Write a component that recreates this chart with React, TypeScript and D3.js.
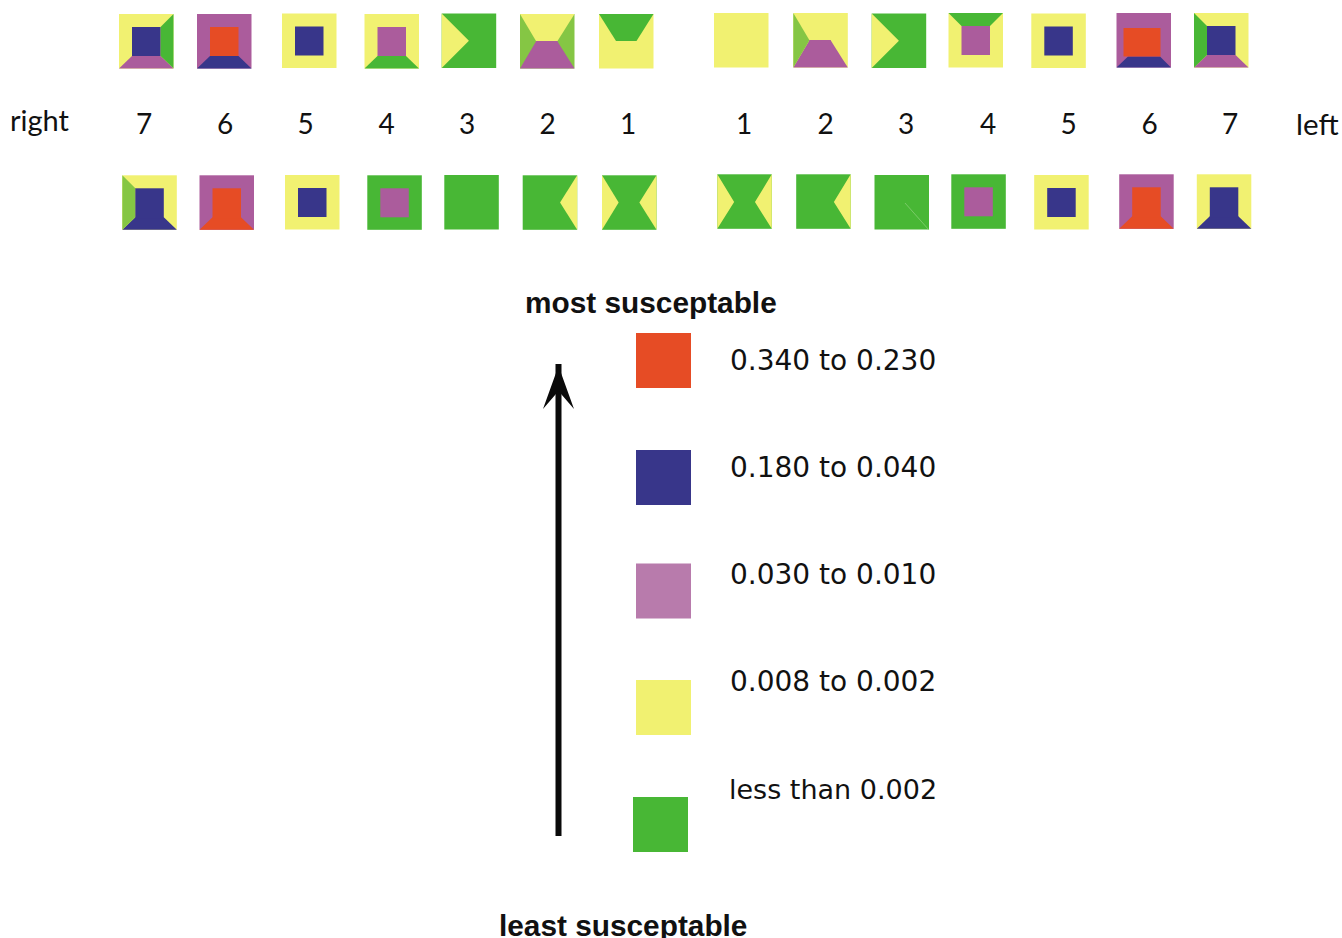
import React from "react";
import * as d3 from "d3";

const WIDTH = 1342;
const HEIGHT = 938;

const Y = "#f1f171", G = "#48b735", P = "#ab5c9c", N = "#38368a", O = "#e64c25", L = "#85c644";

// colour sets: top, right, bottom, left, centre
const topRightCells = [
  [Y, G, P, Y, N], [P, P, N, P, O], [Y, Y, Y, Y, N], [Y, Y, G, Y, P], [G, G, G, Y, G], [Y, L, P, L, P], [G, Y, Y, Y, Y],
];
const topLeftCells = [
  [Y, Y, Y, Y, Y], [Y, Y, P, L, P], [G, G, G, Y, G], [G, Y, Y, Y, P], [Y, Y, Y, Y, N], [P, P, N, P, O], [Y, Y, P, G, N],
];
const bottomRightCells = [
  [Y, Y, N, L, N], [P, P, O, P, O], [Y, Y, Y, Y, N], [G, G, G, G, P], [G, G, G, G, G], [G, Y, G, G, G], [G, Y, G, Y, G],
];
const bottomLeftCells = [
  [G, Y, G, Y, G], [G, Y, G, G, G], [G, G, G, G, G], [G, G, G, G, P], [Y, Y, Y, Y, N], [P, P, O, P, O], [Y, Y, N, Y, N],
];

const numbersRight = ["7", "6", "5", "4", "3", "2", "1"];
const numbersLeft = ["1", "2", "3", "4", "5", "6", "7"];

const legendLabels = ["0.340 to 0.230", "0.180 to 0.040", "0.030 to 0.010", "0.008 to 0.002", "less than 0.002"];
const legendColors = [O, N, "#b87bac", Y, G];

// layout: pixel geometry, kept apart from the data above
const S = 54.5;
const layoutTopRight = [[119, 14], [197, 14], [282, 13.5], [364.5, 14], [441.7, 13.5], [520, 14], [599, 14]];
const layoutTopLeft = [[714, 13], [793.3, 13], [871.7, 13.5], [948.5, 13], [1031.3, 13.5], [1116.5, 13], [1194, 13]];
const layoutBottomRight = [[122.3, 175.3], [199.5, 175.3], [285, 175], [367.3, 175.3], [444.3, 175], [522.7, 175.3], [602, 175.3]];
const layoutBottomLeft = [[717.3, 174.3], [796.2, 174.3], [874.5, 175], [951.3, 174.3], [1034.2, 175], [1119.2, 174.3], [1196.8, 174.3]];

// mitre point insets: left, top, right, bottom
const std = [13, 13, 13, 12.5];
const insetsTopRight = [std, std, std, std, [27, 27, 27, 27], [16, 27, 17, 27], [17, 27, 17, 27]];
const insetsTopLeft = [std, [16, 27, 17, 27], [27, 27, 27, 27], std, std, [11.5, 15, 11, 11], std];
const insetsBottomRight = [std, std, std, std, std, [27, 27, 17, 27], [16.5, 27, 17, 27]];
const insetsBottomLeft = [[17, 28, 17, 27], [27, 28, 17, 27], std, std, std, std, std];

// centre square that differs from the mitre rectangle
const coreOverride: Record<string, number[]> = { "topLeft-5": [7, 15, 10.5, 11] };

type Group = { id: string; colors: string[][]; layout: number[][]; insets: number[][] };
const groups: Group[] = [
  { id: "topRight", colors: topRightCells, layout: layoutTopRight, insets: insetsTopRight },
  { id: "topLeft", colors: topLeftCells, layout: layoutTopLeft, insets: insetsTopLeft },
  { id: "bottomRight", colors: bottomRightCells, layout: layoutBottomRight, insets: insetsBottomRight },
  { id: "bottomLeft", colors: bottomLeftCells, layout: layoutBottomLeft, insets: insetsBottomLeft },
];

const numberY = 134;
const numberXRight = [144, 225, 305.5, 386.5, 467, 547.5, 628];
const numberXLeft = [744, 825.5, 906, 988, 1068.5, 1149.5, 1230];

const legendY = [333, 450, 563.5, 680, 797];
const legendX = [636, 636, 636, 636, 633];
const legendTextY = [370, 477, 584, 691, 799];
const legendTextX = [730, 730, 730, 730, 729];
const legendTextSize = [28, 28, 28, 28, 27];

const arrowPath = d3.path();
arrowPath.moveTo(558.5, 364);
arrowPath.lineTo(558.5, 836);

const headPath = d3.path();
headPath.moveTo(558.5, 366);
headPath.lineTo(574, 409);
headPath.lineTo(558.5, 391);
headPath.lineTo(543, 409);
headPath.closePath();

const line = d3.line();

function Cell({ x, y, colors, inset, core }: { x: number; y: number; colors: string[]; inset: number[]; core?: number[] }) {
  const [t, r, b, l, c] = colors;
  const x0 = x, x1 = x + S, y0 = y, y1 = y + S;
  const ix0 = x + inset[0], ix1 = x + S - inset[2], iy0 = y + inset[1], iy1 = y + S - inset[3];
  const poly = (pts: [number, number][]) => line(pts) + "Z";
  const k = core ?? inset;
  const base = d3.mode([t, r, b, l]) as unknown as string;
  // a centre that shares the bottom colour overlaps it, so no seam shows
  const overlap = b === c ? 1 : 0;
  return (
    <g>
      <rect x={x0} y={y0} width={S} height={S} fill={base} />
      {t !== base && <path d={poly([[x0, y0], [x1, y0], [ix1, iy0], [ix0, iy0]])} fill={t} />}
      {r !== base && <path d={poly([[x1, y0], [x1, y1], [ix1, iy1], [ix1, iy0]])} fill={r} />}
      {b !== base && <path d={poly([[x0, y1], [x1, y1], [ix1, iy1], [ix0, iy1]])} fill={b} />}
      {l !== base && <path d={poly([[x0, y0], [x0, y1], [ix0, iy1], [ix0, iy0]])} fill={l} />}
      {c !== base && (
        <rect
          x={x + k[0]}
          y={y + k[1]}
          width={S - k[0] - k[2]}
          height={Math.max(0, S - k[1] - k[3]) + overlap}
          fill={c}
        />
      )}
    </g>
  );
}

const numberFont = "Lato, 'Open Sans', sans-serif";
const legendFont = "'DejaVu Sans', sans-serif";
const headFont = "'Liberation Sans', Arial, sans-serif";

export default function App() {
  return (
    <svg
      width={WIDTH}
      height={HEIGHT}
      viewBox={`0 0 ${WIDTH} ${HEIGHT}`}
      style={{ position: "absolute", left: 0, top: 0, background: "#fff", margin: 0 }}
    >
      {groups.map((g) =>
        g.colors.map((colors, i) => (
          <Cell
            key={g.id + i}
            x={g.layout[i][0]}
            y={g.layout[i][1]}
            colors={colors}
            inset={g.insets[i]}
            core={coreOverride[`${g.id}-${i}`]}
          />
        ))
      )}
      <path d="M905 203L929 230" stroke="#8fd27c" strokeWidth={0.7} fill="none" />
      <g fontFamily={numberFont} fontSize={28} fill="#111" textAnchor="middle">
        {numbersRight.map((n, i) => (
          <text key={"r" + i} x={numberXRight[i]} y={numberY}>{n}</text>
        ))}
        {numbersLeft.map((n, i) => (
          <text key={"l" + i} x={numberXLeft[i]} y={numberY}>{n}</text>
        ))}
      </g>
      <text x={10} y={130.5} fontFamily={numberFont} fontSize={29} fill="#111">right</text>
      <text x={1296} y={134.5} fontFamily={numberFont} fontSize={29.5} fill="#111">left</text>

      <text x={525} y={313} fontFamily={headFont} fontWeight="bold" fontSize={29.8} fill="#111">most susceptable</text>
      <text x={499} y={936} fontFamily={headFont} fontWeight="bold" fontSize={29.8} fill="#111">least susceptable</text>

      <path d={arrowPath.toString()} stroke="#0a0a0a" strokeWidth={6} fill="none" />
      <path d={headPath.toString()} fill="#0a0a0a" />

      {legendLabels.map((label, i) => (
        <g key={label}>
          <rect x={legendX[i]} y={legendY[i]} width={55} height={55} fill={legendColors[i]} />
          <text x={legendTextX[i]} y={legendTextY[i]} fontFamily={legendFont} fontSize={legendTextSize[i]} fill="#111">{label}</text>
        </g>
      ))}
    </svg>
  );
}
